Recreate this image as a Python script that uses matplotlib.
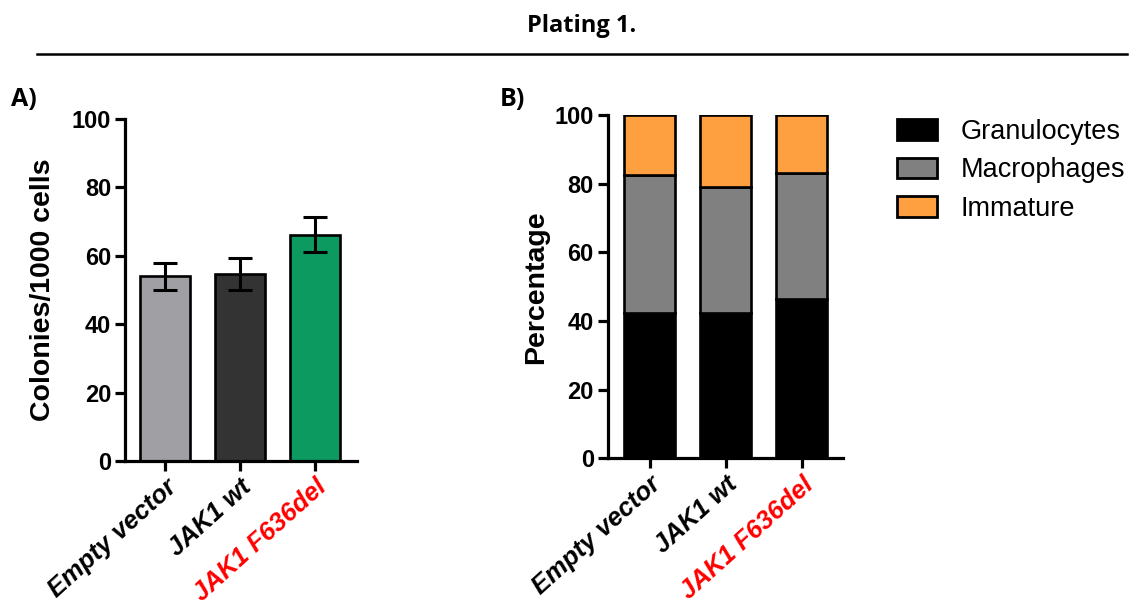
import numpy as np
import matplotlib.pyplot as plt
from matplotlib.patches import Patch

# datos
grupos = ['Empty vector', 'JAK1 wt', 'JAK1 F636del']
colonias = [54.0, 54.6, 66.2]
error = [4.0, 4.7, 5.2]
granulocitos = [42.4, 42.4, 46.4]
macrofagos = [40.2, 36.8, 36.7]
inmaduros = [17.4, 20.8, 16.9]

plt.rcParams['font.family'] = 'Liberation Sans'

fig = plt.figure(figsize=(11.36, 6.04), dpi=100)

fig.text(0.512, 0.957, 'Plating 1.', ha='center', va='center',
         fontsize=17, fontweight='bold', family='Open Sans')
fig.add_artist(plt.Line2D([0.033, 0.992], [0.911, 0.911], color='black', lw=1.8))

x = np.arange(len(grupos))

def estilo(ax):
    for s in ['top', 'right']:
        ax.spines[s].set_visible(False)
    for s in ['left', 'bottom']:
        ax.spines[s].set_linewidth(2.3)
    ax.tick_params(direction='out', length=7.5, width=2.3, labelsize=17, pad=2.5)
    ax.set_xticks(x)
    ax.set_xticklabels(grupos, rotation=42, ha='right', rotation_mode='anchor',
                       fontsize=18.5, fontweight='bold', style='italic')
    ax.get_xticklabels()[2].set_color('red')
    ax.set_ylim(0, 100)
    ax.set_yticks([0, 20, 40, 60, 80, 100])
    for lbl in ax.get_yticklabels():
        lbl.set_fontweight('bold')

# ---------------- A ----------------
axA = fig.add_axes([0.110, 0.2368, 0.204, 0.566])
axA.bar(x, colonias, width=0.667, color=['#a0a0a4', '#333333', '#0c9a60'],
        edgecolor='black', linewidth=1.9, zorder=2)
axA.errorbar(x, colonias, yerr=error, fmt='none', ecolor='black',
             elinewidth=2.2, capsize=8.3, capthick=2.2, zorder=3)
axA.set_xlim(-0.533, 2.56)
estilo(axA)
axA.set_ylabel('Colonies/1000 cells', fontsize=20.5, fontweight='bold', labelpad=11)
fig.text(0.010, 0.825, 'A)', fontsize=18, fontweight='bold', family='Open Sans')

# ---------------- B ----------------
axB = fig.add_axes([0.535, 0.2412, 0.207, 0.568])
abajo = np.zeros(3)
for vals, col, nom in [(granulocitos, 'black', 'Granulocytes'),
                       (macrofagos, '#808080', 'Macrophages'),
                       (inmaduros, '#ffa040', 'Immature')]:
    axB.bar(x, vals, bottom=abajo, width=0.67, color=col, edgecolor='black',
            linewidth=1.9, label=nom, zorder=2)
    abajo = abajo + np.array(vals)
axB.set_xlim(-0.55, 2.54)
estilo(axB)
axB.set_ylabel('Percentage', fontsize=20.5, fontweight='bold', labelpad=4)
fig.text(0.440, 0.825, 'B)', fontsize=18, fontweight='bold', family='Open Sans')

handles = [Patch(facecolor=c, edgecolor='black', linewidth=2)
           for c in ['black', '#808080', '#ffa040']]
fig.legend(handles, ['Granulocytes', 'Macrophages', 'Immature'],
           loc='upper left', bbox_to_anchor=(0.768, 0.843), frameon=False,
           fontsize=19.5, handlelength=1.5, handleheight=0.8, handletextpad=0.85,
           labelspacing=0.45)

plt.savefig('out.png', dpi=100)
